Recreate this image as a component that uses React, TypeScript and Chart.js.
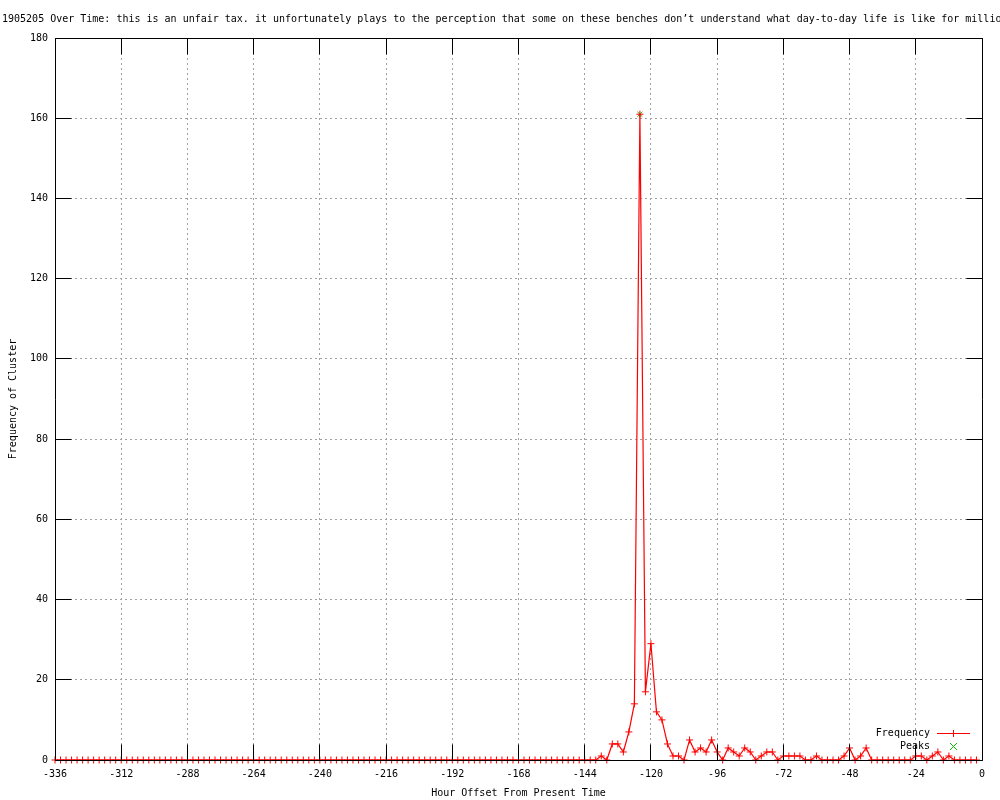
import React, { useEffect, useRef } from 'react';
import { Chart, registerables } from 'chart.js';

Chart.register(...registerables);

const TITLE =
  ' 1905205 Over Time: this is an unfair tax. it unfortunately plays to the perception that some on these benches don\u2019t understand what day-to-day life is like for millions';
const X_TITLE = 'Hour Offset From Present Time';
const Y_TITLE = 'Frequency of Cluster';
const SERIES_NAMES = ['Frequency', 'Peaks'];

const HOURS = [
  -336, -334, -332, -330, -328, -326, -324, -322, -320, -318, -316, -314,
  -312, -310, -308, -306, -304, -302, -300, -298, -296, -294, -292, -290,
  -288, -286, -284, -282, -280, -278, -276, -274, -272, -270, -268, -266,
  -264, -262, -260, -258, -256, -254, -252, -250, -248, -246, -244, -242,
  -240, -238, -236, -234, -232, -230, -228, -226, -224, -222, -220, -218,
  -216, -214, -212, -210, -208, -206, -204, -202, -200, -198, -196, -194,
  -192, -190, -188, -186, -184, -182, -180, -178, -176, -174, -172, -170,
  -168, -166, -164, -162, -160, -158, -156, -154, -152, -150, -148, -146,
  -144, -142, -140, -138, -136, -134, -132, -130, -128, -126, -124, -122,
  -120, -118, -116, -114, -112, -110, -108, -106, -104, -102, -100, -98,
  -96, -94, -92, -90, -88, -86, -84, -82, -80, -78, -76, -74,
  -72, -70, -68, -66, -64, -62, -60, -58, -56, -54, -52, -50,
  -48, -46, -44, -42, -40, -38, -36, -34, -32, -30, -28, -26,
  -24, -22, -20, -18, -16, -14, -12, -10, -8, -6, -4, -2,
];

const FREQUENCY = [
  0, 0, 0, 0, 0, 0, 0, 0, 0, 0, 0, 0,
  0, 0, 0, 0, 0, 0, 0, 0, 0, 0, 0, 0,
  0, 0, 0, 0, 0, 0, 0, 0, 0, 0, 0, 0,
  0, 0, 0, 0, 0, 0, 0, 0, 0, 0, 0, 0,
  0, 0, 0, 0, 0, 0, 0, 0, 0, 0, 0, 0,
  0, 0, 0, 0, 0, 0, 0, 0, 0, 0, 0, 0,
  0, 0, 0, 0, 0, 0, 0, 0, 0, 0, 0, 0,
  0, 0, 0, 0, 0, 0, 0, 0, 0, 0, 0, 0,
  0, 0, 0, 1, 0, 4, 4, 2, 7, 14, 161, 17,
  29, 12, 10, 4, 1, 1, 0, 5, 2, 3, 2, 5,
  2, 0, 3, 2, 1, 3, 2, 0, 1, 2, 2, 0,
  1, 1, 1, 1, 0, 0, 1, 0, 0, 0, 0, 1,
  3, 0, 1, 3, 0, 0, 0, 0, 0, 0, 0, 0,
  1, 1, 0, 1, 2, 0, 1, 0, 0, 0, 0, 0,
];

const PEAK_HOURS = [-124];
const PEAK_VALUES = [161];

const X_TICKS = [-336, -312, -288, -264, -240, -216, -192, -168, -144, -120, -96, -72, -48, -24, 0];
const Y_TICKS = [0, 20, 40, 60, 80, 100, 120, 140, 160, 180];

const FONT = "10px 'DejaVu Sans Mono'";
const RED = 'rgb(255,0,0)';
const GREEN = 'rgb(0,192,0)';
const TIC = 16;

const decorPlugin = {
  id: 'gnuplotDecor',
  afterDatasetsDraw(chart: any) {
    const { ctx, chartArea: a, scales } = chart;
    const xs = scales.x;
    const ys = scales.y;
    const L = Math.floor(a.left) + 0.5;
    const R = Math.floor(a.right) + 0.5;
    const T = Math.floor(a.top) + 0.5;
    const B = Math.floor(a.bottom) + 0.5;
    ctx.save();
    ctx.strokeStyle = '#000000';
    ctx.lineWidth = 1;
    ctx.setLineDash([]);
    ctx.beginPath();
    ctx.rect(L, T, R - L, B - T);
    X_TICKS.forEach((v) => {
      const px = Math.floor(xs.getPixelForValue(v)) + 0.5;
      ctx.moveTo(px, B);
      ctx.lineTo(px, B - TIC);
      ctx.moveTo(px, T);
      ctx.lineTo(px, T + TIC);
    });
    Y_TICKS.forEach((v) => {
      const py = Math.floor(ys.getPixelForValue(v)) + 0.5;
      ctx.moveTo(L, py);
      ctx.lineTo(L + TIC, py);
      ctx.moveTo(R, py);
      ctx.lineTo(R - TIC, py);
    });
    ctx.stroke();
    ctx.restore();
  },
  afterDraw(chart: any) {
    const { ctx, chartArea: a } = chart;
    ctx.save();
    ctx.globalAlpha = 1;
    ctx.globalCompositeOperation = 'source-over';
    ctx.font = FONT;
    ctx.fillStyle = '#000';
    ctx.textBaseline = 'middle';
    ctx.textAlign = 'left';
    ctx.fillText(TITLE, -4, 19);
    ctx.textAlign = 'center';
    ctx.fillText(X_TITLE, (a.left + a.right) / 2, 793);

    // legend
    ctx.textAlign = 'right';
    const lx = 930;
    const y1 = 733;
    const y2 = 746;
    ctx.fillText(SERIES_NAMES[0], lx, y1);
    ctx.fillText(SERIES_NAMES[1], lx, y2);
    ctx.fillStyle = RED;
    ctx.fillRect(937, y1, 33, 1);
    ctx.fillRect(953, y1 - 3, 1, 7);
    ctx.fillStyle = GREEN;
    for (let k = -3; k <= 3; k++) {
      ctx.fillRect(953 + k, y2 + k, 1, 1);
      ctx.fillRect(953 + k, y2 - k, 1, 1);
    }

    ctx.fillStyle = '#000';
    ctx.textAlign = 'center';
    ctx.translate(13, (a.top + a.bottom) / 2);
    ctx.rotate(-Math.PI / 2);
    ctx.fillText(Y_TITLE, 0, 0);
    ctx.restore();
  },
};

export default function App() {
  const canvasRef = useRef<HTMLCanvasElement | null>(null);

  useEffect(() => {
    if (!canvasRef.current) return;
    const freq = HOURS.map((h, i) => ({ x: h, y: FREQUENCY[i] }));
    const peaks = PEAK_HOURS.map((h, i) => ({ x: h, y: PEAK_VALUES[i] }));
    const chart = new Chart(canvasRef.current, {
      type: 'line',
      data: {
        datasets: [
          {
            label: SERIES_NAMES[0],
            data: freq,
            borderColor: RED,
            backgroundColor: RED,
            borderWidth: 1.2,
            pointStyle: 'cross',
            pointRadius: 3.5,
            pointBorderWidth: 1,
            pointBorderColor: RED,
            tension: 0,
            clip: false as any,
          },
          {
            label: SERIES_NAMES[1],
            data: peaks,
            showLine: false,
            borderColor: GREEN,
            backgroundColor: GREEN,
            pointStyle: 'crossRot',
            pointRadius: 3.5,
            pointBorderWidth: 1,
            pointBorderColor: GREEN,
            clip: false as any,
          },
        ],
      },
      options: {
        animation: false,
        responsive: false,
        devicePixelRatio: 1,
        layout: { padding: { top: 38, right: 18, left: 0, bottom: 0 } },
        plugins: {
          legend: { display: false },
          tooltip: { enabled: false },
          title: { display: false },
        },
        scales: {
          x: {
            type: 'linear',
            min: -336,
            max: 0,
            afterFit: (s: any) => {
              s.height = 40;
            },
            afterBuildTicks: (s: any) => {
              s.ticks = X_TICKS.map((v) => ({ value: v }));
            },
            ticks: {
              font: { family: 'DejaVu Sans Mono', size: 10 },
              color: '#000',
              padding: 8,
              maxRotation: 0,
              autoSkip: false,
              callback: (v: any) => String(v),
            },
            grid: { color: '#a0a0a0', drawTicks: false, lineWidth: 1 },
            border: { display: false, dash: [2, 3] },
          },
          y: {
            type: 'linear',
            min: 0,
            max: 180,
            afterFit: (s: any) => {
              s.width = 55;
            },
            afterBuildTicks: (s: any) => {
              s.ticks = Y_TICKS.map((v) => ({ value: v }));
            },
            ticks: {
              font: { family: 'DejaVu Sans Mono', size: 10 },
              color: '#000',
              padding: 7,
              autoSkip: false,
              callback: (v: any) => String(v),
            },
            grid: { color: '#a0a0a0', drawTicks: false, lineWidth: 1 },
            border: { display: false, dash: [2, 3] },
          },
        },
      },
      plugins: [decorPlugin],
    });
    return () => chart.destroy();
  }, []);

  return (
    <div style={{ position: 'fixed', left: 0, top: 0, width: 1000, height: 800, background: '#fff' }}>
      <canvas ref={canvasRef} width={1000} height={800} style={{ display: 'block' }} />
    </div>
  );
}
